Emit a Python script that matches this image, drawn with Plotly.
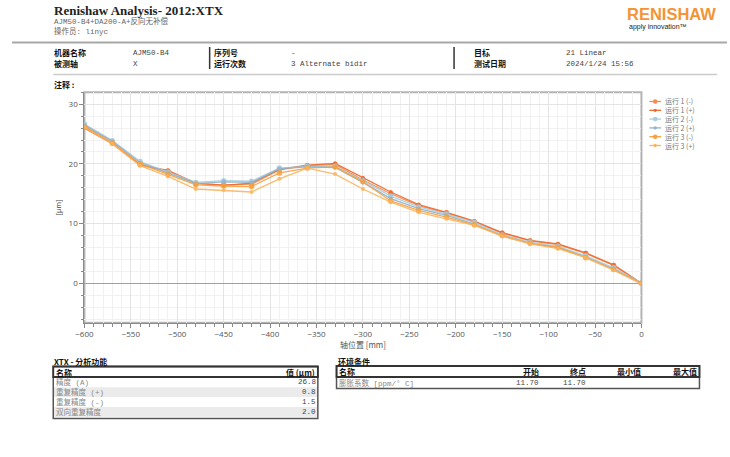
import plotly.graph_objects as go

W, H = 730, 457

# Target positions along the axis [mm]
positions = [-600, -570, -540, -510, -480, -450, -420, -390, -360, -330, -300,
             -270, -240, -210, -180, -150, -120, -90, -60, -30, 0]

# Measured error per run and direction [µm]
run1_minus = [26.3, 23.6, 19.9, 18.8, 16.7, 16.5, 16.6, 19.0, 19.7, 19.9, 17.3,
              15.0, 13.0, 11.8, 10.3, 8.4, 7.1, 6.5, 5.0, 3.0, 0.0]
run1_plus = [26.0, 23.4, 19.8, 18.9, 16.8, 16.4, 16.8, 19.1, 19.8, 20.1, 17.7,
             15.3, 13.2, 11.9, 10.4, 8.5, 7.2, 6.6, 5.1, 3.1, 0.0]
run2_minus = [26.7, 23.9, 20.4, 18.6, 16.9, 17.2, 17.1, 19.3, 19.6, 19.6, 17.2,
              14.6, 12.8, 11.6, 10.2, 8.1, 6.9, 6.2, 4.6, 2.6, 0.1]
run2_plus = [26.5, 23.8, 20.2, 18.5, 16.7, 17.0, 16.9, 19.2, 19.5, 19.4, 16.9,
             14.2, 12.5, 11.4, 9.9, 7.9, 6.7, 6.0, 4.4, 2.4, 0.0]
run3_minus = [26.2, 23.5, 20.0, 18.2, 16.5, 16.3, 16.2, 18.5, 19.3, 19.5, 17.0,
              13.8, 12.2, 11.1, 9.8, 8.0, 6.7, 6.0, 4.3, 2.3, 0.0]
run3_plus = [26.1, 23.4, 19.7, 17.9, 15.8, 15.6, 15.3, 17.5, 19.3, 18.3, 15.8,
             13.6, 11.9, 10.8, 9.7, 7.9, 6.6, 5.8, 4.3, 2.2, -0.1]

series_names = ["运行 1 (-)", "运行 1 (+)", "运行 2 (-)", "运行 2 (+)", "运行 3 (-)", "运行 3 (+)"]
series_values = [run1_minus, run1_plus, run2_minus, run2_plus, run3_minus, run3_plus]
series_colors = ["#F58C4E", "#F0692F", "#A9CCE0", "#8FB4CB", "#F7A140", "#FBB45E"]
marker_sizes = [5.5, 4, 5.5, 4, 5.5, 4]

# Header information
title_text = "Renishaw Analysis- 2012:XTX"
subtitle_text = "AJM50-B4+DA200-A+反向无补偿"
operator_text = "操作员: linyc"
info_labels_row1 = ["机器名称", "序列号", "目标"]
info_values_row1 = ["AJM50-B4", "-", "21 Linear"]
info_labels_row2 = ["被测轴", "运行次数", "测试日期"]
info_values_row2 = ["X", "3 Alternate bidir", "2024/1/24 15:56"]

# Analysis table
analysis_names = ["精度 (A)", "重复精度 (+)", "重复精度 (-)", "双向重复精度"]
analysis_values = ["26.8", "0.8", "1.5", "2.0"]

# Environment table
env_headers = ["名称", "开始", "终点", "最小值", "最大值"]
env_row = ["膨胀系数 [ppm/° C]", "11.70", "11.70", "", ""]

CJK = "Noto Sans CJK SC"
MONO = "Liberation Mono, Noto Sans CJK SC"


def X(px):
    return px / W


def Y(py):
    return 1 - py / H


annotations = []
shapes = []


def text(x, y, s, size=8, color="#333", bold=False, anchor="left", family=CJK):
    annotations.append(dict(
        x=X(x), y=Y(y), xref="paper", yref="paper", text=f"<b>{s}</b>" if bold else s,
        showarrow=False, xanchor=anchor, yanchor="middle", borderpad=0,
        font=dict(size=size, color=color, family=family)))


def hline(x0, x1, y, color, width):
    shapes.append(dict(type="line", xref="paper", yref="paper",
                       x0=X(x0), x1=X(x1), y0=Y(y), y1=Y(y),
                       line=dict(color=color, width=width)))


def vline(x, y0, y1, color, width):
    shapes.append(dict(type="line", xref="paper", yref="paper",
                       x0=X(x), x1=X(x), y0=Y(y0), y1=Y(y1),
                       line=dict(color=color, width=width)))


def rect(x0, y0, x1, y1, line_color=None, width=0, fill=None):
    shapes.append(dict(type="rect", xref="paper", yref="paper",
                       x0=X(x0), x1=X(x1), y0=Y(y1), y1=Y(y0),
                       line=dict(color=line_color or "rgba(0,0,0,0)", width=width),
                       fillcolor=fill or "rgba(0,0,0,0)", layer="below"))


fig = go.Figure()
for name, vals, col, ms in zip(series_names, series_values, series_colors, marker_sizes):
    fig.add_trace(go.Scatter(
        x=positions, y=vals, name=name, mode="lines+markers",
        line=dict(color=col, width=1.3),
        marker=dict(color=col, size=ms, symbol="circle"),
        opacity=0.9, showlegend=False))

# ---- header ----
text(45, 11, title_text, size=13, color="#222", bold=True, family="Liberation Serif, Noto Sans CJK SC")
text(45, 21, subtitle_text, size=7.5, color="#666", family=MONO)
text(45, 31, operator_text, size=7.5, color="#666", family=MONO)
text(627, 14, "RENISHAW", size=16.5, color="#F39436", bold=True, family="Liberation Sans")
text(629, 27, "apply innovation™", size=7, color="#222", family="Liberation Sans")
hline(3, 730, 42.5, "#A8A8A8", 2.2)

label_x = [45, 207, 472]
value_x = [125, 286, 565]
for lx, vx, lab, val in zip(label_x, value_x, info_labels_row1, info_values_row1):
    text(lx, 52.5, lab, size=8, color="#111", bold=True)
    text(vx, 52.5, val, size=7.5, color="#444", family=MONO)
for lx, vx, lab, val in zip(label_x, value_x, info_labels_row2, info_values_row2):
    text(lx, 63.5, lab, size=8, color="#111", bold=True)
    text(vx, 63.5, val, size=7.5, color="#444", family=MONO)
vline(204, 47, 69, "#333", 1.5)
vline(452.5, 47, 69, "#333", 1.5)
hline(45, 720, 74.5, "#CCCCCC", 1.5)
text(45, 84.5, "注释 :", size=8, color="#111", bold=True)

# ---- legend ----
for i, (name, col, ms) in enumerate(zip(series_names, series_colors, marker_sizes)):
    yy = 101.5 + 8.8 * i
    hline(651, 663, yy, col, 1.3)
    r = ms / 2.4
    shapes.append(dict(type="circle", xref="paper", yref="paper",
                       x0=X(657 - r), x1=X(657 + r), y0=Y(yy + r), y1=Y(yy - r),
                       fillcolor=col, line=dict(width=0)))
    text(666, yy, name, size=7, color="#777")

# ---- plot frame ----
px0, px1, py0, py1 = 76.7, 643, 92.3, 322.7
rect(px0, py0, px1, py1, line_color="#B4B4B4", width=2)

# ---- analysis table ----
text(45, 361, "XTX - 分析功能", size=8, color="#111", bold=True)
row_top = 377.5
row_h = 9.8
for i, (nm, vl) in enumerate(zip(analysis_names, analysis_values)):
    yc = row_top + row_h * (i + 0.5)
    if i % 2 == 1:
        rect(45.5, row_top + row_h * i, 313.5, row_top + row_h * (i + 1), fill="#EBEBEB")
    text(47, yc, nm, size=7.5, color="#888", family=MONO)
    text(313, yc, vl, size=7.5, color="#444", anchor="right", family=MONO)
rect(45, 366.5, 314, 418.5, line_color="#555", width=1.5)
rect(45, 366.5, 314, 377, line_color="#333", width=1.8)
text(47, 372, "名称", size=8, color="#111", bold=True)
text(312, 372, "值 (µm)", size=8, color="#111", bold=True, anchor="right")

# ---- environment table ----
text(333, 361, "环境条件", size=8, color="#111", bold=True)
rect(333, 366, 702, 388.5, line_color="#555", width=1.5)
rect(333, 366, 702, 377, line_color="#333", width=1.8)
env_x = [335, 540, 588, 644, 701]
for j, (hx, hd, rv) in enumerate(zip(env_x, env_headers, env_row)):
    anchor = "left" if j == 0 else "right"
    text(hx, 371.5, hd, size=8, color="#111", bold=True, anchor=anchor)
    if rv:
        text(hx, 383, rv, size=7.5, color="#888" if j == 0 else "#444", anchor=anchor, family=MONO)

tick_font = dict(family="Open Sans", size=8, color="#555")
fig.update_layout(
    width=W, height=H, margin=dict(l=0, r=0, t=0, b=0),
    paper_bgcolor="white", plot_bgcolor="white",
    annotations=annotations, shapes=shapes,
    xaxis=dict(
        domain=[X(px0), X(px1)], range=[-600, 0], dtick=50, tick0=0,
        showgrid=True, gridcolor="#E4E4E4", gridwidth=1,
        minor=dict(dtick=10, showgrid=True, gridcolor="#F1F1F1", ticks="outside",
                   ticklen=3, tickcolor="#888"),
        ticks="outside", ticklen=4, tickcolor="#888",
        showline=True, linecolor="#8A8A8A", linewidth=1.2, zeroline=False,
        tickfont=tick_font,
        title=dict(text="轴位置 [mm]", font=dict(family=CJK, size=8, color="#555"), standoff=2)),
    yaxis=dict(
        domain=[Y(py1), Y(py0)], range=[-6.6, 32], dtick=10, tick0=0,
        showgrid=True, gridcolor="#E4E4E4", gridwidth=1,
        minor=dict(dtick=2, showgrid=True, gridcolor="#F1F1F1", ticks="outside",
                   ticklen=2, tickcolor="#888"),
        ticks="outside", ticklen=4, tickcolor="#888",
        showline=True, linecolor="#8A8A8A", linewidth=1.2,
        zeroline=True, zerolinecolor="#A0A0A0", zerolinewidth=1.2,
        tickfont=tick_font,
        title=dict(text="[µm]", font=dict(family="Open Sans", size=7, color="#444"), standoff=6)),
)

fig.write_html("out.html")
